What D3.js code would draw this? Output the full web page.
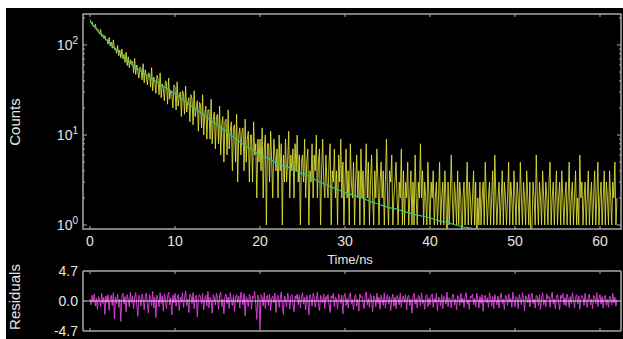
<!DOCTYPE html>
<html>
<head>
<meta charset="utf-8">
<script src="https://cdn.jsdelivr.net/npm/d3@7"></script>
<style>
  html, body { margin: 0; padding: 0; background: #ffffff; }
  svg { display: block; }
  text { font-family: "Liberation Sans", Arial, sans-serif; fill: #e4e4e4; }
</style>
</head>
<body>
<svg id="chart" width="623" height="339"></svg>
<script>
// ---- data ----
const timeStep = 0.125; // ns per channel
const counts = [
  192,176,181,163,158,170,149,152,
  143,132,149,124,131,118,127,113,
  116,102,121,97,108,92,114,89,
  93,81,99,76,88,72,90,70,
  79,64,83,59,74,56,69,63,
  66,49,71,47,60,52,43,57,
  55,41,62,38,53,45,36,49,
  48,34,56,31,44,39,29,46,
  42,28,49,26,37,33,24,40,
  38,22,43,25,31,29,20,36,
  34,19,39,21,27,30,16,31,
  29,17,35,18,23,26,14,28,
  25,13,31,16,20,24,11,23,
  22,12,28,10,17,21,9,19,
  19,9,25,8,15,18,7,16,
  17,8,21,6,13,16,5,14,
  15,6,19,7,11,14,4,12,
  13,5,17,3,10,12,6,11,
  12,4,15,5,9,11,3,10,
  10,3,14,6,8,2,9,5,
  9,4,12,2,7,10,1,8,
  8,3,11,5,2,9,6,4,
  7,2,10,4,8,1,6,3,
  9,3,5,11,2,6,4,7,
  2,8,4,10,3,6,1,5,
  6,3,9,2,5,7,1,4,
  3,8,2,6,4,10,2,5,
  7,1,4,9,3,2,6,3,
  2,5,8,1,4,3,7,2,
  4,1,6,3,9,2,5,1,
  3,7,2,4,1,8,3,2,
  5,1,3,6,2,4,1,7,
  2,4,1,3,8,2,5,1,
  3,6,2,1,4,2,7,3,
  1,3,5,2,4,1,3,9,
  2,1,4,3,6,1,2,3,
  5,2,1,3,2,7,1,4,
  1,3,2,5,1,2,4,1,
  3,1,6,2,1,3,2,8,
  2,4,1,3,2,1,5,2,
  1,3,2,4,1,2,3,1,
  2,5,1,2,3,1,4,2,
  0,3,1,2,6,2,1,3,
  2,1,4,1,3,2,0,2,
  3,1,2,5,1,3,2,1,
  2,4,1,3,0,2,1,3,
  1,2,3,1,5,2,1,2,
  3,1,2,4,1,6,2,1,
  2,3,1,2,4,1,3,2,
  1,2,5,1,3,2,1,4,
  2,1,3,2,1,5,2,1,
  3,2,1,4,2,1,3,0,
  1,3,2,1,6,2,1,3,
  2,1,4,2,1,3,2,1,
  3,5,1,2,3,1,2,4,
  1,2,3,1,4,2,1,2,
  3,1,2,5,1,2,3,1,
  2,4,1,2,1,6,2,3,
  1,2,3,1,2,4,1,2,
  3,1,2,4,1,2,5,1,
  2,3,1,2,4,1,3,2,
  1,4,2,1,3,2,5,1,
  2
];
const residuals = [
  0.3,-0.6,0.9,-0.2,1.1,-0.8,0.4,-1.3,
  0.7,0.2,-0.9,1.2,-0.4,0.6,-2.1,0.8,
  -0.3,1.0,-1.5,0.5,0.9,-0.7,1.3,-2.8,
  0.6,-0.4,1.1,-1.0,0.3,-3.2,0.8,1.2,
  -0.5,0.7,-1.7,1.0,0.2,-0.9,1.4,-0.3,
  0.8,-1.2,0.5,1.3,-0.6,-2.4,0.9,0.4,
  -0.8,1.1,0.3,-1.4,0.7,1.2,-0.5,-1.9,
  1.0,0.4,-0.7,1.5,-1.1,0.6,-2.6,0.9,
  0.2,-0.9,1.3,-0.4,0.8,-1.6,1.1,0.3,
  -1.2,0.7,1.4,-0.6,0.5,-2.2,0.9,-0.3,
  1.2,-0.8,0.4,1.0,-1.5,0.6,-0.2,1.3,
  -1.0,0.5,1.6,-0.7,0.3,-1.8,1.1,0.8,
  -0.4,1.3,-1.2,0.6,0.9,-2.5,0.4,1.0,
  0.7,-0.5,1.2,-1.4,0.3,0.9,-0.8,1.5,
  -1.1,0.6,0.2,-1.9,1.0,0.5,-0.6,1.2,
  0.4,-1.3,0.8,1.4,-0.9,0.3,-2.0,0.7,
  1.1,-0.4,0.6,-1.2,1.3,0.2,-0.7,0.9,
  -1.6,0.5,1.0,-0.3,0.8,-1.1,1.4,0.4,
  -0.6,1.2,-2.3,0.7,0.3,-0.9,1.1,0.6,
  -1.3,0.8,0.4,1.5,-0.5,-2.9,0.9,0.2,
  -4.2,1.0,0.6,-0.8,1.3,-1.2,0.5,0.9,
  -0.7,1.1,-1.5,0.4,0.8,-0.3,1.2,-1.8,
  0.6,0.9,-1.0,0.3,1.4,-0.6,-2.1,0.8,
  0.4,-0.9,1.2,0.5,-1.3,0.7,1.0,-0.4,
  -1.7,0.8,0.3,1.1,-0.6,0.9,-1.1,0.5,
  1.3,-0.5,0.6,-1.4,0.9,0.2,-2.2,1.0,
  0.4,-0.8,1.2,0.6,-1.0,0.3,1.4,-0.7,
  -1.5,0.9,0.5,-0.3,1.1,-1.2,0.7,0.2,
  1.0,-0.6,-1.8,0.8,0.4,1.2,-0.9,0.6,
  0.3,-1.3,1.1,0.5,-0.4,0.9,-2.0,0.7,
  1.2,-0.7,0.4,-1.1,0.8,1.3,-0.5,0.2,
  -1.4,0.6,1.0,-0.8,0.3,-1.6,1.1,0.5,
  0.7,-0.3,-1.2,0.9,1.4,-0.6,0.4,-1.0,
  1.1,0.3,-1.7,0.8,0.5,-0.9,1.2,-0.4,
  0.6,-1.3,0.9,0.2,-0.7,1.3,-1.1,0.4,
  1.0,-0.5,0.7,-1.5,0.3,1.1,-0.8,0.6,
  -1.2,0.9,0.4,-0.6,1.2,-1.0,0.5,0.8,
  -0.3,1.0,-1.4,0.6,0.9,-0.7,0.3,-1.9,
  0.8,1.2,-0.5,0.4,-1.1,0.9,0.6,-0.8,
  1.3,-0.4,0.2,-1.3,0.7,1.0,-0.9,0.5,
  -0.6,0.8,1.1,-1.0,0.4,-0.3,1.2,-1.5,
  0.6,0.3,-0.8,1.0,-1.2,0.7,0.4,-0.5,
  1.4,-0.9,0.5,0.2,-1.1,0.8,1.1,-0.6,
  0.3,-1.4,0.9,0.6,-0.7,1.2,-0.3,0.4,
  -1.0,0.7,1.3,-0.5,0.2,-1.3,0.8,0.5,
  1.1,-0.6,0.4,-0.9,1.2,0.3,-1.1,0.7,
  -0.4,1.0,-1.6,0.6,0.9,-0.3,0.5,-1.0,
  1.3,0.4,-0.8,0.7,-1.2,1.0,0.2,-0.6,
  0.8,-1.1,0.5,1.2,-0.4,0.3,-1.3,0.9,
  0.6,-0.7,1.1,-0.2,0.4,-1.0,1.4,0.3,
  -0.9,0.7,0.5,-1.2,1.0,0.2,-0.6,1.3,
  0.4,-1.5,0.8,0.6,-0.3,1.1,-0.9,0.5,
  1.2,-0.4,0.3,-1.1,0.9,0.6,-0.7,1.0,
  -1.3,0.5,1.3,-0.6,0.2,-0.9,1.1,0.4,
  0.7,-1.0,0.6,1.4,-0.5,0.3,-1.2,0.8,
  1.0,-0.3,-1.4,0.9,0.4,1.2,-0.6,0.5,
  -0.8,1.1,0.3,-1.0,0.7,-0.4,1.3,0.2,
  -1.1,0.6,1.0,-0.5,0.8,-1.3,0.4,0.9,
  0.5,-0.7,1.2,-0.2,-1.0,0.7,1.1,-0.6,
  0.3,-1.2,0.9,0.6,-0.4,1.3,-0.9,0.4,
  1.0,-0.5,0.7,-1.1,0.5,0.9,-0.7,0.3,
  -1.0,0.8,0.4,-0.6,1.2,-0.3,0.6,-0.8,
  0.2
];
const fitStep = 1; // ns
const fitCounts = [
  182,141,112,91,74,60,51,44,38,33,
  28.8,24.5,20.9,17.8,15.1,12.9,11.0,9.3,7.9,6.9,
  6.0,5.5,4.9,4.5,4.1,3.7,3.4,3.0,2.75,2.51,
  2.29,2.14,2.0,1.82,1.70,1.58,1.51,1.41,1.32,1.26,
  1.20,1.12,1.07,1.0,0.95,0.91,0.85,0.81
];
const xTicks = [0, 10, 20, 30, 40, 50, 60];
const yDecades = [1, 10, 100];
const yExponents = ["0", "1", "2"];
const resTicks = [4.7, 0, -4.7];
const resTickLabels = ["4.7", "0.0", "-4.7"];

// ---- layout ----
const svg = d3.select("#chart");
svg.append("rect").attr("x", 6).attr("y", 8).attr("width", 617).attr("height", 331).attr("fill", "#000");

const L = 83, R = 621, T = 14, B = 229;      // main panel
const RT = 271, RB = 331;                     // residual panel
const axisCol = "#a8a8a8";

const x = d3.scaleLinear().domain([-0.824, 62.47]).range([L, R]);
const y = d3.scaleLog().domain([Math.pow(10, -4 / 90), Math.pow(10, 2 + 31 / 90)]).range([B, T]);
const yr = d3.scaleLinear().domain([-4.7, 4.7]).range([RB, RT]);

const defs = svg.append("defs");
defs.append("clipPath").attr("id", "clipMain").append("rect").attr("x", L).attr("y", T).attr("width", R - L).attr("height", B - T);
defs.append("clipPath").attr("id", "clipRes").append("rect").attr("x", L).attr("y", RT).attr("width", R - L).attr("height", RB - RT);

const times = counts.map((_, i) => i * timeStep);
const fitTimes = fitCounts.map((_, i) => i * fitStep);

// ---- main panel data ----
const gMain = svg.append("g").attr("clip-path", "url(#clipMain)");
gMain.append("path")
  .attr("d", d3.line().x((d, i) => x(times[i])).y(d => y(Math.max(d, 0.5)))(counts))
  .attr("fill", "none").attr("stroke", "#e4e43a").attr("stroke-width", 1).attr("stroke-opacity", 0.85);
gMain.append("path")
  .attr("d", d3.line().curve(d3.curveMonotoneX).x((d, i) => x(fitTimes[i])).y(d => y(d))(fitCounts))
  .attr("fill", "none").attr("stroke", "#2fc48c").attr("stroke-width", 1.2);

// ---- main frame & ticks ----
const frame = svg.append("g").attr("stroke", axisCol).attr("fill", "none");
frame.append("rect").attr("x", L).attr("y", T).attr("width", R - L).attr("height", B - T).attr("stroke-width", 1.5);

const minorVals = [];
yDecades.forEach(d => { for (let k = 1; k <= 9; k++) { const v = d * k; if (v >= y.domain()[0] && v <= y.domain()[1]) minorVals.push(v); } });
minorVals.forEach(v => {
  const len = yDecades.includes(v) ? 4 : 2;
  frame.append("line").attr("x1", L).attr("x2", L + len).attr("y1", y(v)).attr("y2", y(v)).attr("stroke-width", 1);
  frame.append("line").attr("x1", R).attr("x2", R - len).attr("y1", y(v)).attr("y2", y(v)).attr("stroke-width", 1);
});
xTicks.forEach(t => {
  frame.append("line").attr("x1", x(t)).attr("x2", x(t)).attr("y1", B).attr("y2", B - 3).attr("stroke-width", 1);
  frame.append("line").attr("x1", x(t)).attr("x2", x(t)).attr("y1", T).attr("y2", T + 3).attr("stroke-width", 1);
});

// y labels with superscripts
yDecades.forEach((v, i) => {
  const t = svg.append("text").attr("x", 78).attr("y", y(v) + 5).attr("text-anchor", "end").attr("font-size", 14);
  t.append("tspan").text("10");
  t.append("tspan").attr("dy", -6).attr("font-size", 10).text(yExponents[i]);
});
// x labels
xTicks.forEach(t => {
  svg.append("text").attr("x", x(t)).attr("y", 246).attr("text-anchor", "middle").attr("font-size", 14).text(t);
});
svg.append("text").attr("x", 350).attr("y", 263.5).attr("text-anchor", "middle").attr("font-size", 13).text("Time/ns");
svg.append("text").attr("transform", "translate(20,122) rotate(-90)").attr("text-anchor", "middle").attr("font-size", 15).text("Counts");

// ---- residual panel ----
const gRes = svg.append("g").attr("clip-path", "url(#clipRes)");
gRes.append("path")
  .attr("d", d3.line().x((d, i) => x(times[i])).y(d => yr(d))(residuals))
  .attr("fill", "none").attr("stroke", "#d43cd4").attr("stroke-width", 1);

const rf = svg.append("g").attr("stroke", axisCol).attr("fill", "none");
rf.append("line").attr("x1", L).attr("x2", R).attr("y1", yr(4.7)).attr("y2", yr(4.7)).attr("stroke-width", 1.5);
rf.append("line").attr("x1", L).attr("x2", R).attr("y1", yr(-4.7)).attr("y2", yr(-4.7)).attr("stroke-width", 1.5);
rf.append("line").attr("x1", L).attr("x2", L).attr("y1", RT).attr("y2", RB).attr("stroke-width", 1.5);
rf.append("line").attr("x1", R).attr("x2", R).attr("y1", RT).attr("y2", RB).attr("stroke-width", 1.5);
rf.append("line").attr("x1", L).attr("x2", R).attr("y1", yr(0)).attr("y2", yr(0)).attr("stroke", "#d8d8d8").attr("stroke-width", 1);
xTicks.forEach(t => {
  rf.append("line").attr("x1", x(t)).attr("x2", x(t)).attr("y1", RB).attr("y2", RB - 3).attr("stroke-width", 1);
  rf.append("line").attr("x1", x(t)).attr("x2", x(t)).attr("y1", RT).attr("y2", RT + 3).attr("stroke-width", 1);
});
resTicks.forEach((v, i) => {
  svg.append("text").attr("x", 78).attr("y", yr(v) + 5).attr("text-anchor", "end").attr("font-size", 14).text(resTickLabels[i]);
});
svg.append("text").attr("transform", "translate(20,297) rotate(-90)").attr("text-anchor", "middle").attr("font-size", 15).text("Residuals");
</script>
</body>
</html>
